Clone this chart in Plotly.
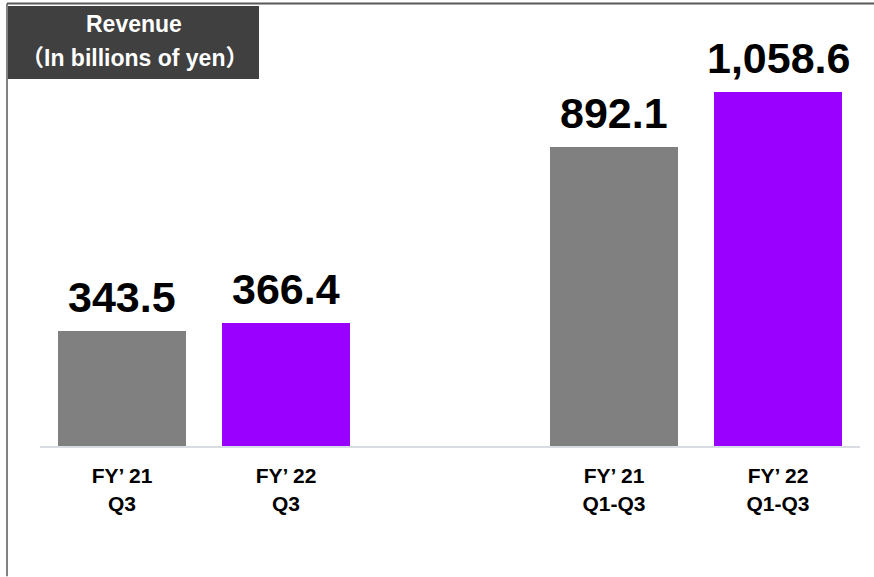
import plotly.graph_objects as go

categories = ["FY’ 21<br>Q3", "FY’ 22<br>Q3", " ", "FY’ 21<br>Q1-Q3", "FY’ 22<br>Q1-Q3"]
gray_cats = ["FY’ 21<br>Q3", "FY’ 21<br>Q1-Q3"]
gray_vals = [343.5, 892.1]
purple_cats = ["FY’ 22<br>Q3", "FY’ 22<br>Q1-Q3"]
purple_vals = [366.4, 1058.6]

GRAY = "#808080"
PURPLE = "#9900FF"
FONT = "Liberation Sans, Arial, sans-serif"

PT = 10
PB = 446.5
PH = PB - PT


def py(y):
    return (PB - y) / PH


def px(x):
    return (x - 40) / 820


fig = go.Figure()
fig.add_trace(go.Bar(x=gray_cats, y=gray_vals, marker=dict(color=GRAY, line=dict(width=0)),
                     width=0.783, hoverinfo="skip"))
fig.add_trace(go.Bar(x=purple_cats, y=purple_vals, marker=dict(color=PURPLE, line=dict(width=0)),
                     width=0.783, hoverinfo="skip"))

annotations = []
for c, v in list(zip(gray_cats, gray_vals)) + list(zip(purple_cats, purple_vals)):
    annotations.append(dict(x=c, y=v, xref="x", yref="y", text=f"<b>{v:,.1f}</b>",
                            showarrow=False, yanchor="bottom", yshift=8,
                            font=dict(family=FONT, size=43, color="#000000")))

# header box text
annotations.append(dict(x=px(134), y=py(24), xref="paper", yref="paper",
                        text="<b>Revenue</b>", showarrow=False, xanchor="center", yanchor="middle",
                        font=dict(family=FONT, size=23, color="#ffffff")))
annotations.append(dict(x=px(134), y=py(58), xref="paper", yref="paper",
                        text="<b>（In billions of yen）</b>", showarrow=False, xanchor="center", yanchor="middle",
                        font=dict(family="Liberation Sans, Noto Sans CJK JP, sans-serif", size=23, color="#ffffff")))

shapes = [
    dict(type="rect", xref="paper", yref="paper", x0=px(8), x1=px(259), y0=py(79), y1=py(6),
         fillcolor="#404040", line=dict(width=0), layer="above"),
    dict(type="line", xref="paper", yref="paper", x0=px(7), x1=px(874), y0=py(3.5), y1=py(3.5),
         line=dict(color="#595959", width=2)),
    dict(type="line", xref="paper", yref="paper", x0=px(7), x1=px(7), y0=py(577), y1=py(3.5),
         line=dict(color="#595959", width=1.5)),
]

fig.update_layout(
    width=874, height=577,
    margin=dict(l=40, r=14, t=PT, b=577 - PB),
    paper_bgcolor="#ffffff", plot_bgcolor="#ffffff",
    showlegend=False, bargap=0,
    annotations=annotations, shapes=shapes,
)
fig.update_xaxes(type="category", categoryorder="array", categoryarray=categories,
                 tickvals=categories, ticktext=[f"<b>{c}</b>" if c.strip() else "" for c in categories],
                 tickfont=dict(family=FONT, size=21, color="#000000"),
                 showline=True, linecolor="#d9dde3", linewidth=2, ticks="", showgrid=False,
                 ticklabelstandoff=10, range=[-0.5, 4.5], fixedrange=True)
fig.update_yaxes(range=[0, 1303], visible=False, showgrid=False, zeroline=False, fixedrange=True)

fig.write_html("out.html", config={"displayModeBar": False},
               post_script="document.body.style.margin='0';document.body.style.overflow='hidden';")
